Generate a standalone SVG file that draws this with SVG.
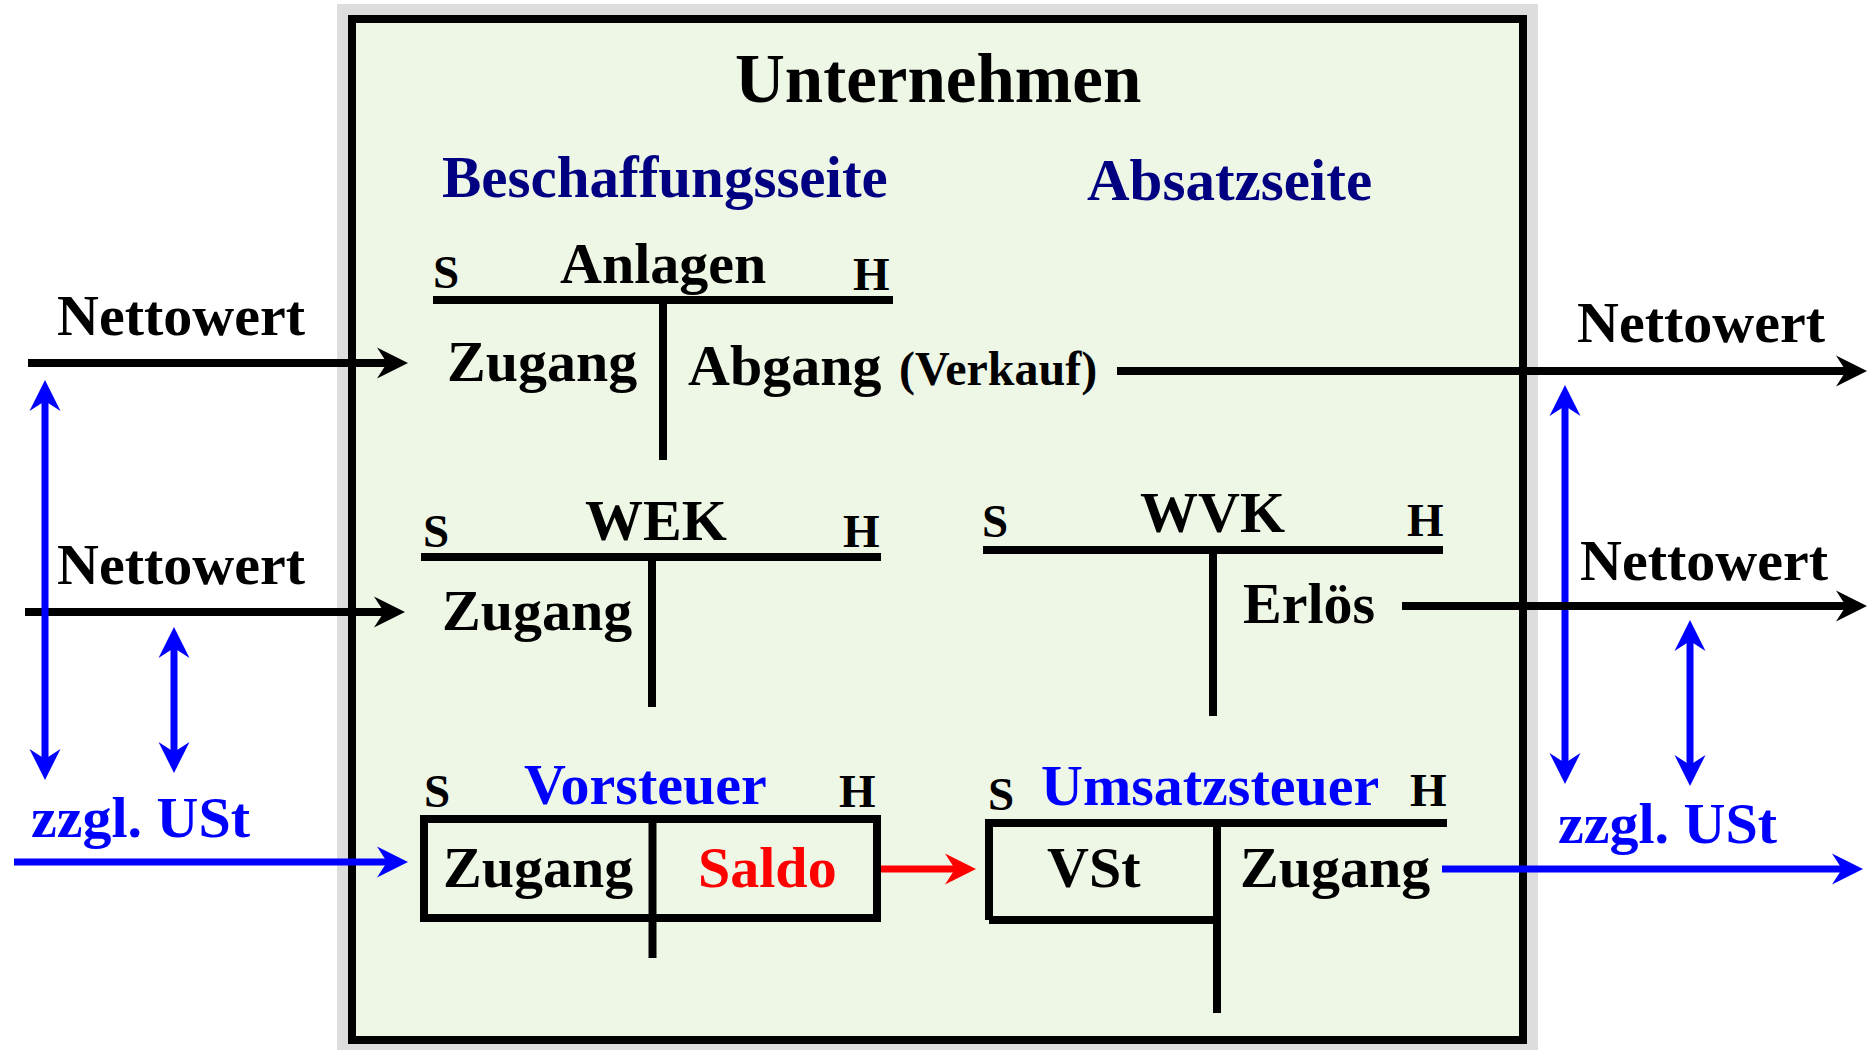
<svg xmlns="http://www.w3.org/2000/svg" width="1869" height="1050" viewBox="0 0 1869 1050">
<style>
text{font-family:"Liberation Serif","Times New Roman",serif;font-weight:bold;fill:#000}
.l{font-size:58px}
.sh{font-size:47px}
.navy{fill:#000080;font-size:59px}
.blue{fill:#0000FF}
.red{fill:#FF0000}
.acc{fill:none;stroke:#000;stroke-width:8}
.ak{fill:none;stroke:#000;stroke-width:8}
.ab{fill:none;stroke:#0000FF;stroke-width:7}
.ar{fill:none;stroke:#FF0000;stroke-width:7}
</style>
<defs>
<marker id="mk" markerUnits="userSpaceOnUse" orient="auto-start-reverse" markerWidth="60" markerHeight="40" refX="0" refY="0" viewBox="-20 -20 60 40" overflow="visible"><path d="M21,0 L-10,-15.5 L0,0 L-10,15.5 Z" fill="#000"/></marker>
<marker id="mb" markerUnits="userSpaceOnUse" orient="auto-start-reverse" markerWidth="60" markerHeight="40" refX="0" refY="0" viewBox="-20 -20 60 40" overflow="visible"><path d="M21,0 L-10,-15.5 L0,0 L-10,15.5 Z" fill="#0000FF"/></marker>
<marker id="mr" markerUnits="userSpaceOnUse" orient="auto-start-reverse" markerWidth="60" markerHeight="40" refX="0" refY="0" viewBox="-20 -20 60 40" overflow="visible"><path d="M21,0 L-10,-15.5 L0,0 L-10,15.5 Z" fill="#FF0000"/></marker>
</defs>
<rect width="1869" height="1050" fill="#fff"/>
<g id="unternehmen">
<rect x="337" y="4" width="1201" height="1050" fill="#DDDDDD"/>
<rect x="352" y="19" width="1171" height="1021" fill="#EEF7E6" stroke="#000" stroke-width="8"/>
<text x="735" y="102" style="font-size:69px">Unternehmen</text>
<text x="442" y="197" class="navy">Beschaffungsseite</text>
<text x="1087" y="200" class="navy">Absatzseite</text>
</g>
<g id="konto-anlagen">
<path class="acc" d="M433,300 H893 M663,300 V460"/>
<text x="433" y="288" class="sh">S</text>
<text x="560" y="283" class="l">Anlagen</text>
<text x="853" y="290" class="sh">H</text>
<text x="447" y="381" class="l">Zugang</text>
<text x="688" y="385" class="l">Abgang</text>
<text x="899" y="385" style="font-size:48px">(Verkauf)</text>
</g>
<g id="konto-wek">
<path class="acc" d="M421,557 H881 M652,557 V707"/>
<text x="423" y="547" class="sh">S</text>
<text x="585" y="540" class="l">WEK</text>
<text x="843" y="547" class="sh">H</text>
<text x="442" y="630" class="l">Zugang</text>
</g>
<g id="konto-wvk">
<path class="acc" d="M983,550 H1443 M1213,550 V716"/>
<text x="982" y="537" class="sh">S</text>
<text x="1140" y="532" class="l">WVK</text>
<text x="1407" y="536" class="sh">H</text>
<text x="1243" y="623" class="l">Erlös</text>
</g>
<g id="konto-vorsteuer">
<rect class="acc" x="424" y="819" width="453" height="99"/>
<path class="acc" d="M652.5,819 V958"/>
<text x="424" y="807" class="sh">S</text>
<text x="524" y="804" class="l blue">Vorsteuer</text>
<text x="839" y="807" class="sh">H</text>
<text x="443" y="887" class="l">Zugang</text>
<text x="698" y="887" class="l red">Saldo</text>
</g>
<g id="konto-umsatzsteuer">
<path class="acc" d="M989,920 V823 H1447 M989,920 H1217 M1217,823 V1013"/>
<text x="988" y="810" class="sh">S</text>
<text x="1041" y="805" class="l blue">Umsatzsteuer</text>
<text x="1410" y="806" class="sh">H</text>
<text x="1047" y="887" class="l">VSt</text>
<text x="1240" y="887" class="l">Zugang</text>
</g>
<g id="labels-aussen">
<text x="57" y="335" class="l">Nettowert</text>
<text x="57" y="584" class="l">Nettowert</text>
<text x="31" y="837" class="l blue">zzgl. USt</text>
<text x="1577" y="342" class="l">Nettowert</text>
<text x="1580" y="580" class="l">Nettowert</text>
<text x="1558" y="843" class="l blue">zzgl. USt</text>
</g>
<g id="connectors">
<path class="ab" d="M1565,406 V763" marker-start="url(#mb)" marker-end="url(#mb)"/>
<path class="ab" d="M1690,641 V765" marker-start="url(#mb)" marker-end="url(#mb)"/>
<path class="ak" d="M28,363 H387" marker-end="url(#mk)"/>
<path class="ak" d="M25,612 H384" marker-end="url(#mk)"/>
<path class="ak" d="M1117,371 H1846" marker-end="url(#mk)"/>
<path class="ak" d="M1402,606 H1846" marker-end="url(#mk)"/>
<path class="ab" d="M45,401 V759" marker-start="url(#mb)" marker-end="url(#mb)"/>
<path class="ab" d="M174,648 V752" marker-start="url(#mb)" marker-end="url(#mb)"/>
<path class="ab" d="M14,862 H387" marker-end="url(#mb)"/>
<path class="ab" d="M1442,869 H1842" marker-end="url(#mb)"/>
<path class="ar" d="M881,869 H955" marker-end="url(#mr)"/>
</g>
</svg>
